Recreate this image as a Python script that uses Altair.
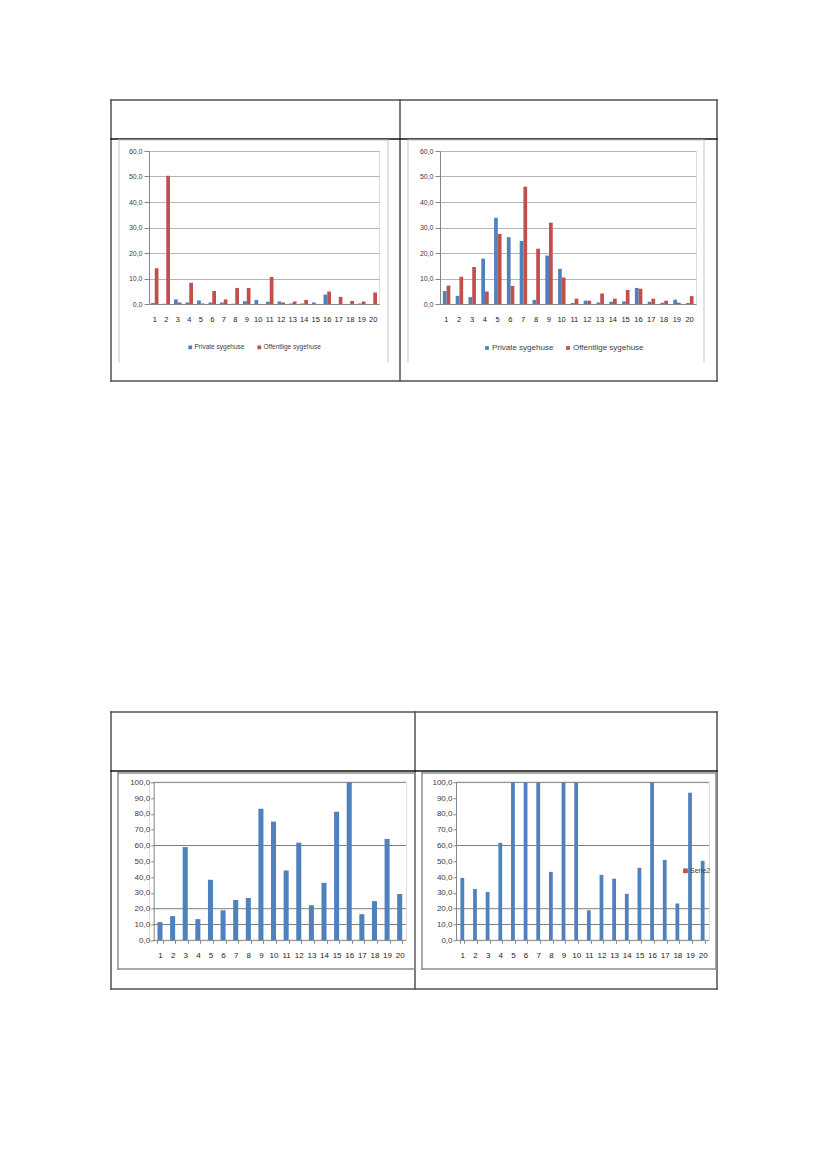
import altair as alt
import pandas as pd

# ---------------- data ----------------
categories = list(range(1, 21))
series_names = ["Private sygehuse", "Offentlige sygehuse"]

tl_private = [0.4, 0.1, 1.8, 0.6, 1.4, 0.6, 0.6, 0.1, 1.1, 1.6, 0.9, 1.0, 0.2, 0.2, 0.6, 3.7, 0.0, 0.0, 0.2, 0.0]
tl_public = [14.0, 50.3, 0.6, 8.3, 0.2, 5.1, 1.8, 6.3, 6.3, 0.0, 10.6, 0.6, 1.0, 1.6, 0.0, 4.9, 2.8, 1.2, 1.0, 4.5]
tr_private = [5.1, 3.2, 2.7, 17.8, 33.8, 26.2, 24.7, 1.6, 19.0, 13.8, 0.4, 1.3, 0.6, 0.9, 1.0, 6.3, 0.9, 0.5, 1.7, 0.4]
tr_public = [7.2, 10.7, 14.5, 4.9, 27.5, 7.1, 46.0, 21.7, 31.9, 10.4, 2.1, 1.3, 4.1, 2.1, 5.5, 6.0, 2.1, 1.3, 0.5, 3.1]
bl_values = [11.5, 15.3, 59.0, 13.4, 38.3, 19.0, 25.5, 26.8, 83.3, 75.1, 44.2, 61.8, 22.2, 36.4, 81.3, 100.0, 16.5, 24.8, 64.2, 29.3]
br_values = [39.5, 32.4, 30.5, 61.7, 100.0, 100.0, 100.0, 43.3, 100.0, 100.0, 19.0, 41.4, 39.0, 29.4, 45.9, 100.0, 50.9, 23.3, 93.4, 50.3]

top_ticks = [0, 10, 20, 30, 40, 50, 60]
bottom_ticks = [0, 10, 20, 30, 40, 50, 60, 70, 80, 90, 100]
bottom_grid = [10, 20, 60, 100]
br_series = ["Serie1", "Serie2"]

BLUE = "#4F81BD"
RED = "#C0504D"
FONT = "Liberation Sans"
AXIS_GRAY = "#868686"
LABEL = "#404040"
LABEL_EXPR = "replace(format(datum.value, '.1f'), '.', ',')"

# ---------------- layout (page pixels) ----------------
TOP_Y0, TOP_H = 150, 153
TL_X0, TL_W = 148, 230
TR_X0, TR_W = 439, 256
BOT_Y0, BOT_H = 781.3, 158
BL_X0, BL_W, BL_AXIS = 148, 257, 152.7
BR_X0, BR_W = 455, 253

# decorative table / frame lines: (x, y, x2, y2, kind)
top_lines = [
    (110, 99, 716, 99, "table"), (110, 380, 716, 380, "table"),
    (110, 99, 110, 380, "table"), (716, 99, 716, 380, "table"),
    (399, 99, 399, 380, "table"), (110, 138, 716, 138, "head"),
    (118, 139, 387, 139, "frame"), (118, 139, 118, 361, "frame"), (387, 139, 387, 361, "frame"),
    (407, 139, 703, 139, "frame"), (407, 139, 407, 361, "frame"), (703, 139, 703, 361, "frame"),
]
bottom_lines = [
    (110, 711, 716, 711, "table"), (110, 988, 716, 988, "table"),
    (110, 711, 110, 988, "table"), (716, 711, 716, 988, "table"),
    (414, 711, 414, 988, "table"), (110, 770, 716, 770, "head"),
    (117, 772, 414, 772, "frame2"), (117, 968, 414, 968, "frame2"),
    (117, 772, 117, 968, "frame2"), (414, 772, 414, 968, "frame2"),
    (421, 772, 716, 772, "frame2"), (421, 968, 716, 968, "frame2"),
    (421, 772, 421, 968, "frame2"), (715, 772, 715, 968, "frame2"),
]
styles = {"table": ("#505050", 1.5), "head": ("#111111", 1.3),
          "frame": ("#c4c4c4", 1.0), "frame2": ("#8c8c8c", 1.5)}


def deco_layers(lines, ox, oy):
    df = pd.DataFrame([
        {"x": a - ox, "y": b - oy, "x2": c - ox, "y2": d - oy, "k": k}
        for a, b, c, d, k in lines
    ])
    layers = []
    for k, (col, w) in styles.items():
        if k not in set(df["k"]):
            continue
        layers.append(
            alt.Chart(df).transform_filter(alt.datum.k == k).mark_rule(
                color=col, strokeWidth=w, strokeCap="square"
            ).encode(
                x=alt.X("x:Q", scale=None, axis=None),
                x2="x2:Q",
                y=alt.Y("y:Q", scale=None, axis=None),
                y2="y2:Q",
            )
        )
    return layers


def top_panel(priv, pub, width, pad_inner, legend_x, legend_font, legend_gap, extra):
    df = pd.DataFrame({
        "cat": categories * 2,
        "serie": [series_names[0]] * 20 + [series_names[1]] * 20,
        "v": priv + pub,
    })
    bars = alt.Chart(df).mark_bar().encode(
        x=alt.X("cat:O", title=None,
                scale=alt.Scale(paddingInner=pad_inner, paddingOuter=pad_inner / 2),
                axis=alt.Axis(labelAngle=0, tickSize=0, labelPadding=11, labelFontSize=7.5,
                              labelFont=FONT, labelColor="#222222", domainColor=AXIS_GRAY,
                              grid=False)),
        xOffset=alt.XOffset("serie:N", sort=series_names,
                            scale=alt.Scale(domain=series_names, paddingInner=0, paddingOuter=0)),
        y=alt.Y("v:Q", title=None, scale=alt.Scale(domain=[0, 60], nice=False),
                axis=alt.Axis(values=top_ticks, labelExpr=LABEL_EXPR, tickSize=5, labelPadding=2,
                              labelFontSize=7, labelFont=FONT, labelColor=LABEL,
                              tickColor=AXIS_GRAY, domainColor=AXIS_GRAY,
                              grid=True, gridColor="#b5b5b5")),
        color=alt.Color("serie:N", sort=series_names,
                        scale=alt.Scale(domain=series_names, range=[BLUE, RED]),
                        legend=alt.Legend(orient="none", legendX=legend_x, legendY=193,
                                          direction="horizontal", title=None,
                                          symbolType="square", symbolSize=14,
                                          symbolStrokeWidth=0, labelFontSize=legend_font,
                                          labelFont=FONT, labelColor=LABEL, labelOffset=1,
                                          columnPadding=legend_gap)),
    )
    return alt.layer(bars, *extra).resolve_scale(x="independent", y="independent").properties(
        width=width, height=TOP_H)


def bottom_panel(values, width, range_start, bar_pad, axis_offset, legend, extra):
    df = pd.DataFrame({"cat": categories, "v": values, "serie": ["Serie1"] * 20})
    color = alt.value(BLUE)
    if legend:
        color = alt.Color("serie:N",
                          scale=alt.Scale(domain=br_series, range=[BLUE, RED]),
                          legend=alt.Legend(orient="none", legendX=226, legendY=85,
                                            values=["Serie2"], title=None,
                                            symbolType="square", symbolSize=22,
                                            symbolStrokeWidth=0, labelFontSize=7,
                                            labelFont=FONT, labelColor=LABEL, labelOffset=1))
    grid = alt.Chart(pd.DataFrame({"g": bottom_grid})).mark_rule(
        color="#808080", strokeWidth=1).encode(
        y=alt.Y("g:Q", scale=alt.Scale(domain=[0, 100], nice=False), axis=None),
        x=alt.value(range_start), x2=alt.value(width),
    )
    base = alt.Chart(pd.DataFrame({"g": [0]})).mark_rule(
        color=AXIS_GRAY, strokeWidth=1).encode(
        y=alt.Y("g:Q", scale=alt.Scale(domain=[0, 100], nice=False), axis=None),
        x=alt.value(range_start), x2=alt.value(width),
    )
    bars = alt.Chart(df).mark_bar().encode(
        x=alt.X("cat:O", title=None,
                scale=alt.Scale(range=[range_start, width], paddingInner=bar_pad,
                                paddingOuter=bar_pad / 2),
                axis=alt.Axis(labelAngle=0, tickSize=3, tickBand="extent", labelPadding=8,
                              labelFontSize=8, labelFont=FONT, labelColor="#222222",
                              tickColor=AXIS_GRAY, domain=False, grid=False)),
        y=alt.Y("v:Q", title=None, scale=alt.Scale(domain=[0, 100], nice=False),
                axis=alt.Axis(values=bottom_ticks, labelExpr=LABEL_EXPR, tickSize=3,
                              labelPadding=1, labelFontSize=8, labelFont=FONT,
                              labelColor=LABEL, tickColor=AXIS_GRAY, domainColor=AXIS_GRAY,
                              grid=False, offset=axis_offset)),
        color=color,
    )
    return alt.layer(grid, base, bars, *extra).resolve_scale(
        x="independent", y="independent").properties(width=width, height=BOT_H)


tl = top_panel(tl_private, tl_public, TL_W, 0.35, 38, 6.5, 11,
               deco_layers(top_lines, TL_X0, TOP_Y0))
tr = top_panel(tr_private, tr_public, TR_W, 0.45, 43, 8, 10, [])
bl = bottom_panel(bl_values, BL_W, BL_AXIS - BL_X0, 0.6, -(BL_AXIS - BL_X0), False,
                  deco_layers(bottom_lines, BL_X0, BOT_Y0))
br = bottom_panel(br_values, BR_W, 0, 0.7, 0, True, [])

top_row = alt.hconcat(tl, tr, spacing=TR_X0 - (TL_X0 + TL_W), bounds="flush").resolve_scale(
    color="independent")
bottom_row = alt.hconcat(bl, br, spacing=BR_X0 - (BL_X0 + BL_W), bounds="flush").resolve_scale(
    color="independent")

# with flush bounds the nested row counts as zero height, so the spacing is
# measured from the top row's origin
chart = alt.vconcat(
    top_row, bottom_row, spacing=BOT_Y0 - TOP_Y0, bounds="flush"
).resolve_scale(color="independent").properties(
    padding={"left": 101, "top": 90, "right": 5, "bottom": 5}
).configure_view(stroke=None).configure(background="white")

chart.save("out.html", embed_options={"renderer": "svg", "actions": False})
